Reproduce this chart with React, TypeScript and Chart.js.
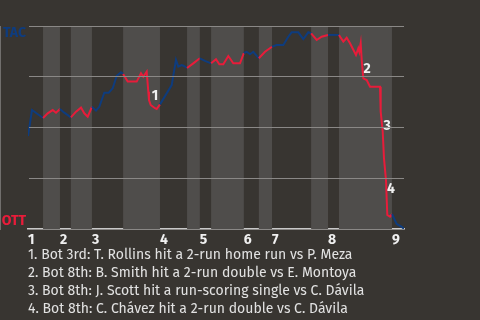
import React, { useEffect, useRef } from "react";
import { Chart, registerables } from "chart.js";

Chart.register(...registerables);

// Game progress (plate-appearance scale, 0..100) and TAC win probability
const gameProgress = [
  0, 1.06, 4.0, 5.24, 6.57, 7.45, 8.5, 9.65, 11.4, 12.77, 14.1, 14.97, 15.88, 17.0,
  18.09, 18.96, 20.29, 21.46, 22.53, 23.59, 24.73, 25.3, 26.52, 28.91, 30.05, 30.66,
  31.57, 32.0, 32.18, 32.63, 33.78, 34.23, 35.1, 38.22, 39.36, 39.97, 40.88, 41.49,
  42.3, 43.96, 45.7, 47.07, 48.7, 50.0, 50.88, 51.94, 53.27, 54.6, 56.38, 57.4, 58.16,
  59.04, 59.92, 61.4, 63.03, 64.9, 66.14, 67.9, 69.23, 70.13, 71.89, 73.22, 74.55,
  75.3, 76.78, 78.11, 79.8, 81.4, 82.7, 83.86, 84.76, 85.64, 87.23, 87.85, 88.11,
  88.48, 88.75, 89.18, 90.08, 90.96, 93.62, 93.8, 94.34, 94.68, 95.21, 95.56, 96.28,
  96.8, 98.06, 99.39, 100,
];
const tacWinProb = [
  0.458, 0.586, 0.547, 0.57, 0.586, 0.573, 0.591, 0.573, 0.55, 0.578, 0.598, 0.57,
  0.553, 0.602, 0.583, 0.602, 0.671, 0.671, 0.693, 0.754, 0.772, 0.764, 0.726, 0.726,
  0.767, 0.75, 0.775, 0.676, 0.635, 0.611, 0.595, 0.591, 0.614, 0.709, 0.833, 0.8,
  0.808, 0.803, 0.793, 0.816, 0.841, 0.828, 0.816, 0.836, 0.811, 0.811, 0.852, 0.816,
  0.816, 0.867, 0.873, 0.861, 0.873, 0.841, 0.873, 0.898, 0.906, 0.906, 0.947, 0.969,
  0.969, 0.936, 0.969, 0.964, 0.931, 0.947, 0.956, 0.956, 0.956, 0.923, 0.942, 0.915,
  0.857, 0.89, 0.873, 0.915, 0.833, 0.742, 0.734, 0.701, 0.701, 0.578, 0.479, 0.348,
  0.241, 0.069, 0.061, 0.074, 0.025, 0.011, 0.0,
];

// Start of each half-inning (top 1, bot 1, top 2, ...), same scale as gameProgress
const halfInningStarts = [
  0, 4, 8.5, 11.4, 17, 25.3, 35.1, 42.3, 45.7, 48.7, 57.4, 61.4, 64.9, 75.3, 79.8, 82.7, 96.8,
];
const gameEnd = 100;
const inningLabels = ["1", "2", "3", "4", "5", "6", "7", "8", "9"];

// Key plays
const keyPlayLabels = ["1", "2", "3", "4"];
const keyPlayX = [33.8, 90.2, 95.5, 96.5];
const keyPlayY = [0.655, 0.788, 0.507, 0.197];
const keyPlayNotes = [
  "1. Bot 3rd: T. Rollins hit a 2-run home run vs P. Meza",
  "2. Bot 8th: B. Smith hit a 2-run double vs E. Montoya",
  "3. Bot 8th: J. Scott hit a run-scoring single vs C. Dávila",
  "4. Bot 8th: C. Chávez hit a 2-run double vs C. Dávila",
];

const awayTeam = "TAC";
const homeTeam = "OTT";

const BG = "#383531";
const BAND = "#4f4d4b";
const BLUE = "#0e3c7e";
const RED = "#e81c3a";
const FONT = "'Fira Sans', 'Open Sans', 'Noto Sans', sans-serif";

function halfIndex(x: number) {
  let idx = 0;
  for (let i = 0; i < halfInningStarts.length; i++) {
    if (halfInningStarts[i] <= x) idx = i;
  }
  return idx;
}

const inningStarts = halfInningStarts.filter((_, i) => i % 2 === 0);

const bandsPlugin = {
  id: "bands",
  beforeDatasetsDraw(chart: any) {
    const { ctx, chartArea, scales } = chart;
    const xs = scales.x;
    ctx.save();
    ctx.fillStyle = BAND;
    for (let i = 1; i < halfInningStarts.length; i += 2) {
      const a = xs.getPixelForValue(halfInningStarts[i]);
      const b = xs.getPixelForValue(i + 1 < halfInningStarts.length ? halfInningStarts[i + 1] : gameEnd);
      ctx.fillRect(a, chartArea.top, b - a, chartArea.bottom - chartArea.top);
    }
    ctx.restore();
  },
  afterDatasetsDraw(chart: any) {
    const { ctx, scales, chartArea } = chart;
    const xs = scales.x;
    const ys = scales.y;
    ctx.save();
    ctx.fillStyle = "#f0f0f0";
    ctx.font = `bold 14px ${FONT}`;
    ctx.textAlign = "center";
    ctx.textBaseline = "middle";
    keyPlayLabels.forEach((t, i) => {
      ctx.fillText(t, xs.getPixelForValue(keyPlayX[i]), ys.getPixelForValue(keyPlayY[i]));
    });
    ctx.font = `bold 14px ${FONT}`;
    ctx.textAlign = "right";
    ctx.fillStyle = BLUE;
    ctx.fillText(awayTeam, chartArea.left - 2, ys.getPixelForValue(1) + 7);
    ctx.fillStyle = RED;
    ctx.fillText(homeTeam, chartArea.left - 2, ys.getPixelForValue(0) - 8);
    ctx.restore();
  },
};

export default function App() {
  const ref = useRef<HTMLCanvasElement>(null);
  useEffect(() => {
    if (!ref.current) return;
    const chart = new Chart(ref.current, {
      type: "line",
      data: {
        datasets: [
          {
            data: gameProgress.map((x, i) => ({ x, y: tacWinProb[i] })),
            borderWidth: 2,
            pointRadius: 0,
            tension: 0,
            borderColor: BLUE,
            segment: {
              borderColor: (c: any) => {
                const mid = (c.p0.parsed.x + c.p1.parsed.x) / 2;
                return halfIndex(mid) % 2 === 0 ? BLUE : RED;
              },
            },
          },
        ],
      },
      plugins: [bandsPlugin],
      options: {
        animation: false,
        responsive: false,
        layout: { padding: { left: 28, right: 76, top: 26, bottom: 0 } },
        plugins: { legend: { display: false }, tooltip: { enabled: false } },
        scales: {
          x: {
            type: "linear",
            min: 0,
            max: gameEnd,
            grid: { display: false },
            border: { display: true, color: "#c8c8c8", width: 1.5 },
            afterBuildTicks: (s: any) => {
              s.ticks = inningStarts.map((v) => ({ value: v }));
            },
            afterFit: (s: any) => {
              s.height = 31;
            },
            ticks: {
              autoSkip: false,
              maxRotation: 0,
              align: "start",
              padding: -5,
              color: "#f0f0f0",
              font: { family: FONT, size: 14, weight: "bold" },
              callback: (_v: any, i: number) => inningLabels[i],
            },
          },
          y: {
            min: 0,
            max: 1,
            ticks: { display: false, stepSize: 0.25 },
            grid: { color: "#8a8886", drawTicks: false, z: 1 },
            border: { display: true, color: "#aaaaaa" },
            afterFit: (s: any) => {
              s.width = 0;
            },
          },
        },
      },
    } as any);
    return () => chart.destroy();
  }, []);

  return (
    <div style={{ position: "fixed", left: 0, top: 0, width: 480, height: 320, background: BG, overflow: "hidden" }}>
      <canvas
        ref={ref}
        width={480}
        height={260}
        style={{ position: "absolute", left: 0, top: 0, display: "block", width: 480, height: 260 }}
      />
      <div
        style={{
          position: "absolute",
          left: 28,
          top: 246,
          fontFamily: FONT,
          fontSize: 14,
          lineHeight: "18px",
          color: "#e2e2e2",
          whiteSpace: "nowrap",
        }}
      >
        {keyPlayNotes.map((n) => (
          <div key={n}>{n}</div>
        ))}
      </div>
    </div>
  );
}
